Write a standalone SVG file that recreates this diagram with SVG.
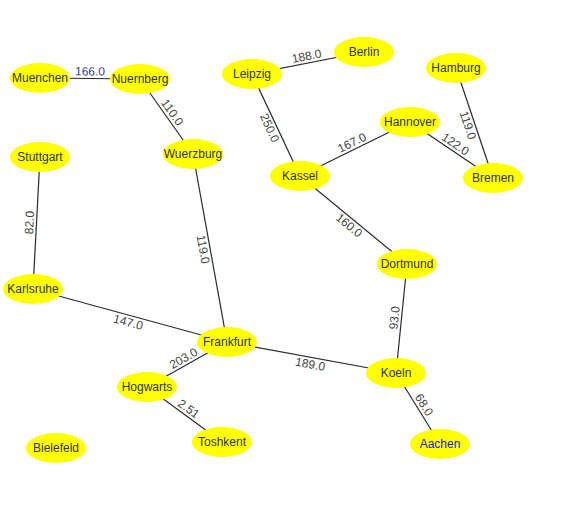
<svg xmlns="http://www.w3.org/2000/svg" width="564" height="513" viewBox="0 0 564 513">
<style>
.e{stroke:#2a2a2a;stroke-width:1.2;fill:none}
.l{font-family:"Liberation Sans",Arial,sans-serif;font-size:12px;fill:#444;text-anchor:middle}
.n ellipse{fill:#ffff00;stroke:none}
.n text{font-family:"Liberation Sans",Arial,sans-serif;font-size:12px;fill:#333;text-anchor:middle}
</style>
<rect width="564" height="513" fill="#fff"/>
<g id="connectors">
<line class="e" x1="40" y1="78" x2="140" y2="79"/>
<line class="e" x1="140" y1="79" x2="193" y2="154"/>
<line class="e" x1="252" y1="74" x2="364" y2="52"/>
<line class="e" x1="252" y1="74" x2="300" y2="176"/>
<line class="e" x1="300" y1="176" x2="410" y2="122"/>
<line class="e" x1="410" y1="122" x2="493" y2="178"/>
<line class="e" x1="456" y1="68" x2="493" y2="178"/>
<line class="e" x1="40" y1="157" x2="33" y2="289"/>
<line class="e" x1="193" y1="154" x2="227" y2="342"/>
<line class="e" x1="33" y1="289" x2="227" y2="342"/>
<line class="e" x1="300" y1="176" x2="407" y2="264"/>
<line class="e" x1="407" y1="264" x2="396" y2="373"/>
<line class="e" x1="227" y1="342" x2="396" y2="373"/>
<line class="e" x1="227" y1="342" x2="147" y2="387"/>
<line class="e" x1="396" y1="373" x2="440" y2="444"/>
<line class="e" x1="147" y1="387" x2="222" y2="442"/>
<text class="l" style="fill:#3a3a8c" transform="translate(90,78.5) rotate(0.6)" y="-3">166.0</text>
<text class="l" transform="translate(166.5,116.5) rotate(54.8)" y="-3">110.0</text>
<text class="l" transform="translate(308,63) rotate(-11.1)" y="-3">188.0</text>
<text class="l" transform="translate(276,125) rotate(64.8)" y="11">250.0</text>
<text class="l" transform="translate(355,149) rotate(-26.1)" y="-3">167.0</text>
<text class="l" transform="translate(451.5,150) rotate(34)" y="-3">122.0</text>
<text class="l" transform="translate(474.5,123) rotate(71.4)" y="11">119.0</text>
<text class="l" transform="translate(36.5,223) rotate(-87)" y="-3">82.0</text>
<text class="l" transform="translate(210,248) rotate(79.7)" y="11">119.0</text>
<text class="l" transform="translate(130,315.5) rotate(15.3)" y="11">147.0</text>
<text class="l" transform="translate(353.5,220) rotate(39.4)" y="11">160.0</text>
<text class="l" transform="translate(401.5,318.5) rotate(-84.2)" y="-3">93.0</text>
<text class="l" transform="translate(311.5,357.5) rotate(10.4)" y="11">189.0</text>
<text class="l" transform="translate(187,364.5) rotate(-29.4)" y="-3">203.0</text>
<text class="l" transform="translate(418,408.5) rotate(58.2)" y="-3">68.0</text>
<text class="l" transform="translate(184.5,414.5) rotate(36.3)" y="-3">2.51</text>
</g>
<g id="Muenchen" class="n"><ellipse cx="40" cy="78" rx="30" ry="15"/><text x="40" y="82">Muenchen</text></g>
<g id="Nuernberg" class="n"><ellipse cx="140" cy="79" rx="30" ry="15"/><text x="140" y="83">Nuernberg</text></g>
<g id="Leipzig" class="n"><ellipse cx="252" cy="74" rx="30" ry="15"/><text x="252" y="78">Leipzig</text></g>
<g id="Berlin" class="n"><ellipse cx="364" cy="52" rx="30" ry="15"/><text x="364" y="56">Berlin</text></g>
<g id="Hamburg" class="n"><ellipse cx="456" cy="68" rx="30" ry="15"/><text x="456" y="72">Hamburg</text></g>
<g id="Hannover" class="n"><ellipse cx="410" cy="122" rx="30" ry="15"/><text x="410" y="126">Hannover</text></g>
<g id="Kassel" class="n"><ellipse cx="300" cy="176" rx="30" ry="15"/><text x="300" y="180">Kassel</text></g>
<g id="Bremen" class="n"><ellipse cx="493" cy="178" rx="30" ry="15"/><text x="493" y="182">Bremen</text></g>
<g id="Stuttgart" class="n"><ellipse cx="40" cy="157" rx="30" ry="15"/><text x="40" y="161">Stuttgart</text></g>
<g id="Wuerzburg" class="n"><ellipse cx="193" cy="154" rx="30" ry="15"/><text x="193" y="158">Wuerzburg</text></g>
<g id="Karlsruhe" class="n"><ellipse cx="33" cy="289" rx="30" ry="15"/><text x="33" y="293">Karlsruhe</text></g>
<g id="Frankfurt" class="n"><ellipse cx="227" cy="342" rx="30" ry="15"/><text x="227" y="346">Frankfurt</text></g>
<g id="Hogwarts" class="n"><ellipse cx="147" cy="387" rx="30" ry="15"/><text x="147" y="391">Hogwarts</text></g>
<g id="Toshkent" class="n"><ellipse cx="222" cy="442" rx="30" ry="15"/><text x="222" y="446">Toshkent</text></g>
<g id="Bielefeld" class="n"><ellipse cx="56" cy="448" rx="30" ry="15"/><text x="56" y="452">Bielefeld</text></g>
<g id="Dortmund" class="n"><ellipse cx="407" cy="264" rx="30" ry="15"/><text x="407" y="268">Dortmund</text></g>
<g id="Koeln" class="n"><ellipse cx="396" cy="373" rx="30" ry="15"/><text x="396" y="377">Koeln</text></g>
<g id="Aachen" class="n"><ellipse cx="440" cy="444" rx="30" ry="15"/><text x="440" y="448" style="fill:#2222dd">Aachen</text></g>
</svg>
